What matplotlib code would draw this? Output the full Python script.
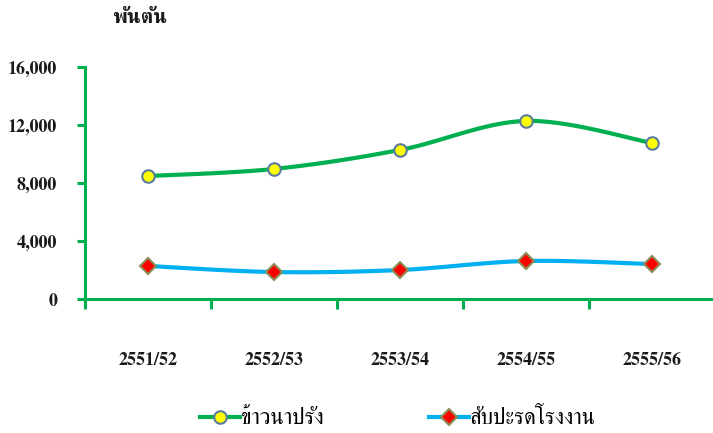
import numpy as np
import matplotlib
matplotlib.use("Agg")
import matplotlib.pyplot as plt
from matplotlib.ticker import FuncFormatter

years = ["2551/52", "2552/53", "2553/54", "2554/55", "2555/56"]
off_season_rice = [8480, 8970, 10280, 12280, 10760]   # ข้าวนาปรัง
factory_pineapple = [2280, 1860, 2000, 2620, 2410]    # สับปะรดโรงงาน
y_ticks = [0, 4000, 8000, 12000, 16000]

GREEN = "#00B050"
BLUE = "#00B0F0"
FONT = ["FreeSerif", "DejaVu Serif"]


def smooth(xs, ys, n=30):
    # excel style smoothed line: catmull-rom segments through every point
    p = np.column_stack([xs, ys]).astype(float)
    p = np.vstack([p[0], p, p[-1]])
    out = []
    t = np.linspace(0, 1, n)[:, None]
    for i in range(1, len(p) - 2):
        p0, p1, p2, p3 = p[i - 1], p[i], p[i + 1], p[i + 2]
        c1 = p1 + (p2 - p0) / 6
        c2 = p2 - (p3 - p1) / 6
        seg = ((1 - t) ** 3) * p1 + 3 * ((1 - t) ** 2) * t * c1 + 3 * (1 - t) * t ** 2 * c2 + t ** 3 * p2
        out.append(seg)
    out = np.vstack(out)
    return out[:, 0], out[:, 1]


fig = plt.figure(figsize=(7.13, 4.33), dpi=100)
ax = fig.add_axes([85 / 713, 134 / 433, 630 / 713, 232 / 433])

x = np.arange(len(years))
for vals, col, mk, ms, face, edge, name in [
    (off_season_rice, GREEN, "o", 9, "#FFFF00", "#5A7BA0", "ข้าวนาปรัง"),
    (factory_pineapple, BLUE, "D", 8.5, "#FF0000", "#8C8C55", "สับปะรดโรงงาน"),
]:
    sx, sy = smooth(x, vals)
    ax.plot(sx, sy, color=col, lw=3, solid_capstyle="round", zorder=2)
    ax.plot(x, vals, ls="none", marker=mk, ms=ms, mfc=face, mec=edge, mew=1.5, zorder=3)
    # legend proxy
    ax.plot([], [], color=col, lw=3, marker=mk, ms=ms, mfc=face, mec=edge, mew=1.5, label=name)

ax.set_xlim(-0.5, len(years) - 0.5)
ax.set_ylim(0, 16000)

for s in ["top", "right"]:
    ax.spines[s].set_visible(False)
for s in ["left", "bottom"]:
    ax.spines[s].set_color(GREEN)
    ax.spines[s].set_linewidth(2.2)

ax.set_yticks(y_ticks)
ax.yaxis.set_major_formatter(FuncFormatter(lambda v, p: f"{int(v):,}"))
ax.tick_params(axis="y", length=6, width=2.2, color=GREEN, pad=14)

# boundary ticks between categories, labels at the centres
ax.set_xticks(np.arange(len(years) + 1) - 0.5)
ax.set_xticklabels([])
ax.set_xticks(x, minor=True)
ax.set_xticklabels(years, minor=True)
ax.tick_params(axis="x", which="major", length=7, width=2.2, color=GREEN)
ax.tick_params(axis="x", which="minor", length=0, pad=38)

for lab in ax.get_yticklabels() + ax.get_xticklabels(minor=True):
    lab.set_fontfamily(FONT)
    lab.set_fontweight("bold")
    lab.set_fontsize(13)
    lab.set_color("#1a1a1a")

fig.text(140 / 713, 1 - 18 / 433, "พันตัน", family=FONT, weight="bold", fontsize=15,
         ha="center", va="center", color="#1a1a1a")

fig.legend(loc="center", bbox_to_anchor=(398 / 713, 1 - 419 / 433), ncol=2, frameon=False,
           prop={"family": FONT, "size": 16}, handlelength=1.8, handletextpad=0.05,
           columnspacing=4.7, numpoints=1, borderpad=0, borderaxespad=0)

fig.savefig("out.png", dpi=100)
